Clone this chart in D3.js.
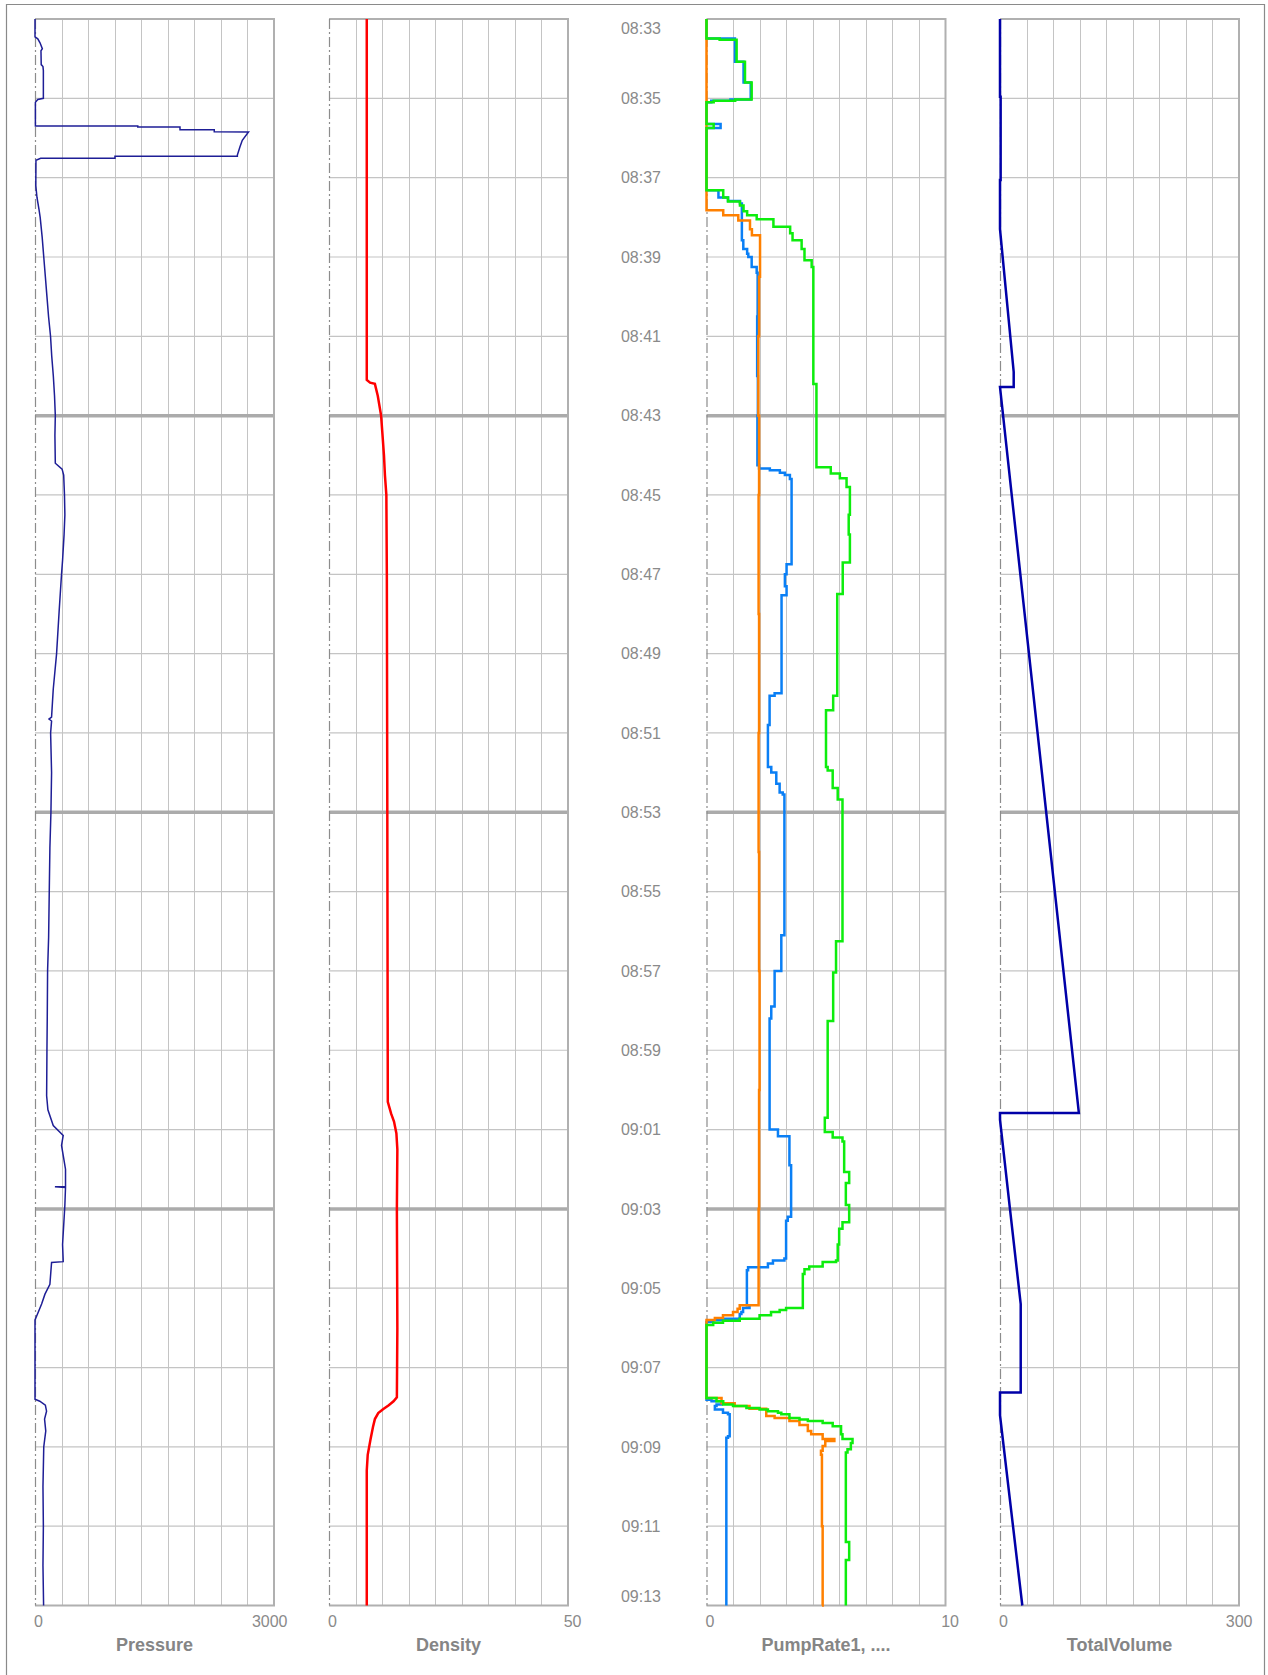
<!DOCTYPE html>
<html><head><meta charset="utf-8">
<script src="https://cdn.jsdelivr.net/npm/d3@7"></script>
<style>
html,body{margin:0;padding:0;background:#fff;}
svg{display:block;}
text{font-family:"Liberation Sans",Arial,sans-serif;}
</style>
</head><body>
<svg id="chart" width="1268" height="1675"></svg>
<script>
// ---------- DATA (time in minutes after 08:33) ----------
const timeLabels = ["08:33","08:35","08:37","08:39","08:41","08:43","08:45","08:47","08:49","08:51","08:53",
                    "08:55","08:57","08:59","09:01","09:03","09:05","09:07","09:09","09:11","09:13"];
const thickLabels = ["08:43","08:53","09:03"];
const panelTitles = ["Pressure","Density","PumpRate1, ....","TotalVolume"];
const panelMin = [0,0,0,0];
const panelMax = [3000,50,10,300];

const pressure = [[0,0],[0.45,0],[0.5,35],[0.6,63],[0.75,92],[0.8,75],[1.15,78],[1.2,100],[1.3,105],[2.0,105],[2.03,35],[2.1,5],
 [2.7,5],[2.7,1290],[2.72,1290],[2.72,1820],[2.79,1820],[2.79,2250],[2.84,2250],[2.85,2680],[3.06,2602],[3.22,2573],[3.43,2540],
 [3.46,2540],[3.46,1004],[3.51,1004],[3.51,71],[3.56,12],[4.2,10],[4.5,25],[4.8,50],[5.0,65],[5.5,90],[6,110],[6.5,130],[7,150],
 [7.5,170],[8,195],[8.5,210],[9,230],[9.5,245],[10,255],[10.5,250],[11.2,255],[11.35,340],[11.5,360],[12,370],[12.5,375],[13,365],
 [13.65,346],[14,333],[14.9,304],[16,271],[16.9,229],[17.6,208],[17.65,175],[17.7,208],[18,196],[19,208],[20,200],[20.9,187],
 [22,179],[23.15,171],[24,158],[25.15,154],[26,150],[27.15,146],[27.5,162],[27.9,229],[28.15,354],[28.4,333],[28.65,354],[29,383],
 [29.44,383],[29.44,250],[29.46,383],[29.9,375],[30.9,346],[31.3,354],[31.33,354],[31.35,208],[31.9,187],[32.15,125],[32.4,83],
 [32.7,21],[32.8,0],[34.8,0],[34.85,60],[34.95,130],[35.1,145],[35.3,120],[35.6,135],[36,110],[37,100],[38,105],[39,100],[40,108]];

const density = [[0,7.9],[9.1,7.9],[9.17,8.6],[9.2,9.6],[9.5,10.2],[10,10.9],[10.5,11.2],[11,11.5],[11.5,11.7],[12,12.0],[14,12.1],
 [20,12.2],[27.3,12.3],[27.6,13.0],[27.8,13.6],[28.1,14.1],[28.5,14.3],[30,14.2],[33,14.3],[34.75,14.2],[34.85,13.5],[34.95,12.5],
 [35.05,11.3],[35.15,10.3],[35.3,9.6],[35.5,9.2],[35.8,8.7],[36.2,8.1],[36.6,7.9],[40,7.9]];

const pumpOrange = [[0,0],[4.82,0.7],[4.95,1.33],[5.08,1.82],[5.3,1.9],[5.45,2.24],[6.5,2.2],[8,2.17],[10,2.2],[12,2.18],[15,2.2],
 [18,2.18],[21,2.2],[24,2.22],[27,2.2],[30,2.18],[32.43,1.39],[32.52,1.3],[32.6,1.11],[32.68,0.69],[32.75,0.35],[32.8,0],
 [34.77,0.63],[34.9,1.18],[34.97,1.8],[35.04,2.5],[35.22,2.85],[35.27,3.47],[35.35,3.89],[35.45,4.24],[35.6,4.38],[35.68,4.86],
 [35.8,5.35],[35.85,4.97],[35.98,4.86],[36.1,4.79],[36.2,4.83],[38,4.86],[40,4.83]];

const pumpBlue = [[0,0],[0.49,1.19],[1.08,1.55],[1.6,1.85],[2.03,1.0],[2.06,0.2],[2.1,0],[2.65,0.59],[2.75,0],[4.32,0.5],[4.5,0.9],
 [4.59,1.4],[4.65,1.48],[5.58,1.54],[5.8,1.7],[5.92,1.75],[6.0,1.89],[6.25,2.1],[6.4,2.14],[7.5,2.12],[9,2.15],[10,2.13],[11.25,2.2],
 [11.33,2.65],[11.38,3.07],[11.44,3.28],[11.5,3.49],[11.6,3.56],[13.75,3.35],[14.0,3.28],[14.3,3.35],[14.53,3.14],[17.0,2.85],
 [17.06,2.64],[17.8,2.57],[18.86,2.71],[19.0,2.92],[19.28,3.06],[19.5,3.19],[19.55,3.26],[23.1,3.13],[24.0,2.85],[24.9,2.71],
 [25.2,2.64],[28.0,2.99],[28.17,3.47],[28.9,3.54],[30.2,3.4],[30.3,3.33],[31.25,3.26],[31.3,2.78],[31.38,2.57],[31.47,1.74],
 [31.55,1.69],[32.43,1.8],[32.5,1.53],[32.6,1.46],[32.65,1.39],[32.77,0.69],[32.81,0.28],[32.85,0],[34.81,0.21],[34.85,0.63],
 [34.93,0.42],[34.97,0.35],[35.06,0.69],[35.14,0.9],[35.18,0.97],[35.73,0.9],[35.77,0.83],[40,0.83]];

const pumpGreen = [[0,0],[0.49,0.55],[0.52,1.26],[1.08,1.61],[1.6,1.89],[2.03,1.2],[2.06,0.3],[2.1,0],[2.65,0.3],[2.75,0],[4.32,0.7],
 [4.5,0.9],[4.6,1.4],[4.7,1.55],[4.85,1.7],[4.95,2.1],[5.05,2.8],[5.24,3.5],[5.4,3.6],[5.58,3.98],[5.8,4.1],[6.08,4.4],[6.25,4.47],
 [9.2,4.6],[11.3,5.2],[11.46,5.58],[11.58,5.86],[11.8,6.0],[12.5,5.95],[13.0,6.0],[13.7,5.7],[14.5,5.47],[17.06,5.3],[17.43,5.0],
 [18.86,5.07],[18.95,5.28],[19.39,5.49],[19.68,5.69],[23.25,5.42],[24.04,5.3],[25.26,5.07],[27.7,4.95],[28.06,5.28],[28.2,5.69],
 [28.3,5.76],[29.07,5.97],[29.35,5.83],[29.9,5.97],[30.34,5.69],[30.5,5.55],[30.9,5.49],[31.3,5.42],[31.34,4.86],[31.45,4.3],
 [31.52,4.1],[31.64,4.03],[32.5,3.33],[32.55,3.06],[32.6,2.7],[32.68,2.22],[32.77,1.39],[32.82,0.69],[32.87,0.28],[32.93,0],
 [34.77,0.42],[34.85,0.7],[34.93,1.11],[34.97,1.67],[35.02,2.22],[35.06,2.57],[35.1,2.99],[35.14,3.13],[35.18,3.47],[35.27,3.89],
 [35.31,4.24],[35.35,4.86],[35.4,5.28],[35.48,5.63],[35.68,5.69],[35.8,6.11],[35.9,6.04],[36.06,5.9],[36.14,5.83],[38.4,5.97],
 [38.85,5.83],[40,5.83]];

const totalVolume = [[0,0],[1.96,0],[1.96,0.8],[4.06,0.8],[4.06,0],[5.3,0],[8.9,17.2],[9.28,17.2],[9.28,0],[27.58,99],[27.58,0],
 [27.75,0],[30,12.5],[32.4,26],[34.63,26],[34.63,0],[35.2,0],[40,28]];

// ---------- LAYOUT ----------
const W = 1268, H = 1675;
const plotTop = 19, plotBottom = 1605.5, pw = 239;
const lefts = [35, 329, 706.5, 1000];
const svg = d3.select("#chart");

const toMin = s => { const [h,m] = s.split(":").map(Number); return (h*60+m) - (8*60+33); };
const y = d3.scaleLinear().domain([toMin(timeLabels[0]), toMin(timeLabels[timeLabels.length-1])]).range([plotTop, plotBottom]);

// outer frame
svg.append("path").attr("d", `M6.5,${H+5}V4.5H1264.5V${H+5}`).attr("fill","none").attr("stroke","#8a8a8a").attr("stroke-width",1.2);

const xs = lefts.map((l,i) => d3.scaleLinear().domain([panelMin[i], panelMax[i]]).range([l, l+pw]));

xs.forEach((x,i) => {
  const g = svg.append("g");
  const l = lefts[i], r = l + pw;
  const vt = d3.range(10).map(k => panelMin[i] + (panelMax[i]-panelMin[i])*k/9);
  g.selectAll(".vg").data(vt.slice(1,9)).join("line")
    .attr("x1", d => Math.round(x(d))+0.5).attr("x2", d => Math.round(x(d))+0.5)
    .attr("y1", plotTop).attr("y2", plotBottom).attr("stroke","#c4c4c4").attr("stroke-width",1);
  g.selectAll(".hg").data(timeLabels.slice(1, timeLabels.length-1)).join("line")
    .attr("x1", l).attr("x2", r)
    .attr("y1", d => y(toMin(d))).attr("y2", d => y(toMin(d)))
    .attr("stroke", d => thickLabels.includes(d) ? "#ababab" : "#c4c4c4")
    .attr("stroke-width", d => thickLabels.includes(d) ? 3.5 : 1.2);
  g.append("path").attr("d", `M${l},${plotTop}H${r}V${plotBottom}H${l}`).attr("fill","none")
    .attr("stroke","#b0b0b0").attr("stroke-width",2);
  g.append("line").attr("x1", l+0.5).attr("x2", l+0.5).attr("y1", plotTop).attr("y2", plotBottom)
    .attr("stroke","#8c8c8c").attr("stroke-width",1.2).attr("stroke-dasharray","10,3,2,3");
  g.append("text").attr("x", l-1).attr("y", 1627).attr("font-size",16).attr("fill","#8a8a8a").text(d3.format("d")(panelMin[i]));
  g.append("text").attr("x", r+13.5).attr("y", 1627).attr("text-anchor","end").attr("font-size",16).attr("fill","#8a8a8a").text(d3.format("d")(panelMax[i]));
  g.append("text").attr("x", (l+r)/2).attr("y", 1651).attr("text-anchor","middle").attr("font-size",18)
    .attr("font-weight","bold").attr("fill","#858585").text(panelTitles[i]);
});

svg.append("g").selectAll("text").data(timeLabels).join("text")
  .attr("x", 641).attr("y", d => Math.min(Math.max(y(toMin(d)), 28.5), 1596))
  .attr("dy","0.36em").attr("text-anchor","middle").attr("font-size",16).attr("fill","#8a8a8a").text(d => d);

function draw(data, x, color, width, curve){
  const line = d3.line().x(d => x(d[1])).y(d => y(d[0])).curve(curve);
  svg.append("path").datum(data).attr("d", line).attr("fill","none")
    .attr("stroke", color).attr("stroke-width", width).attr("stroke-linejoin","miter");
}
draw(pressure, xs[0], "#1e1e96", 1.5, d3.curveLinear);
draw(density, xs[1], "#ff0000", 2.5, d3.curveLinear);
draw(pumpBlue, xs[2], "#0a7ff5", 2.5, d3.curveStepBefore);
draw(pumpOrange, xs[2], "#ff8000", 2.5, d3.curveStepBefore);
draw(pumpGreen, xs[2], "#0ded0d", 2.5, d3.curveStepBefore);
draw(totalVolume, xs[3], "#0000a8", 2.5, d3.curveLinear);
</script>
</body></html>
